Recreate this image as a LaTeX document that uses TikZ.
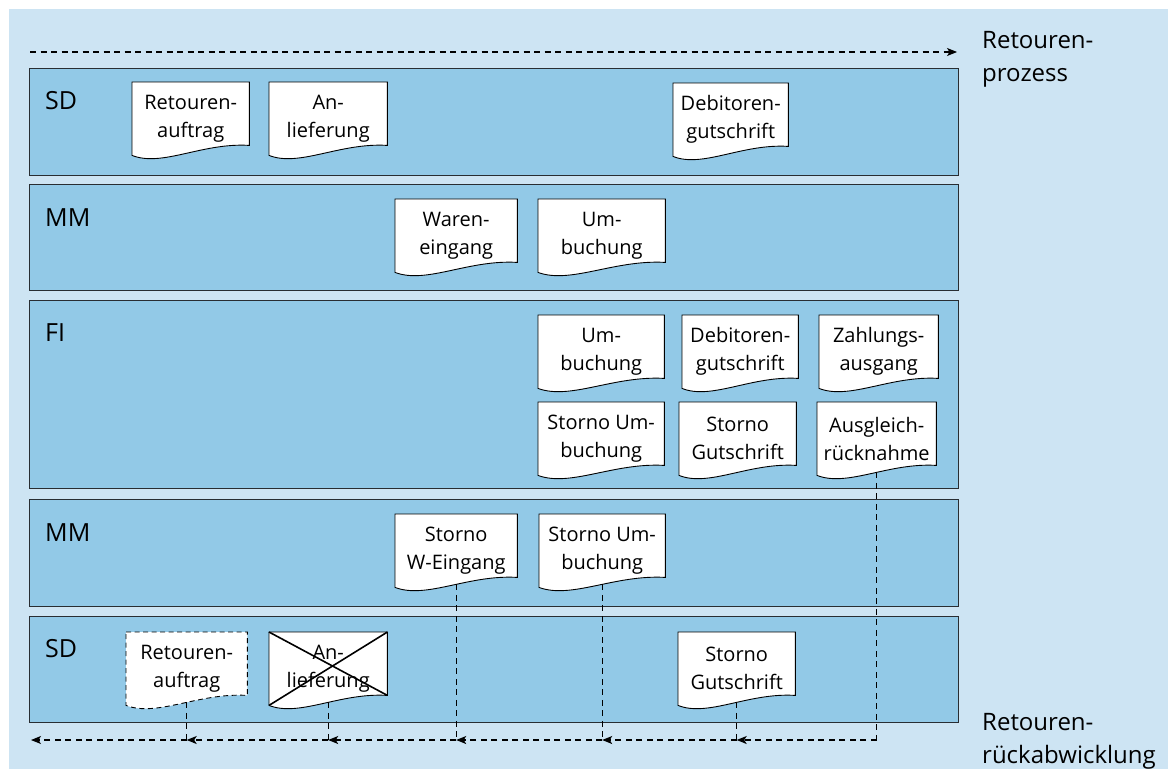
\documentclass[tikz,border=0pt]{standalone}
\usepackage{fontspec}
\setmainfont{Open Sans}
\usetikzlibrary{arrows.meta,calc}
\definecolor{bgblue}{RGB}{205,228,243}
\definecolor{laneblue}{RGB}{146,201,231}
\definecolor{edgecol}{RGB}{40,45,50}
\pgfdeclarelayer{lanes}
\pgfdeclarelayer{docs}
\pgfsetlayers{lanes,docs,main}
\tikzset{
  lanebox/.style={draw=edgecol, line width=1pt, fill=laneblue, inner sep=0pt, anchor=north west},
  lanelabel/.style={font=\fontsize{25}{30}\selectfont, inner sep=0pt, anchor=base west},
  sidelabel/.style={font=\fontsize{24}{33}\selectfont, inner sep=0pt, anchor=base west, align=left},
  doctext/.style={font=\fontsize{20}{28}\selectfont, inner sep=0pt, align=center, minimum height=73pt, anchor=north west},
  docline/.style={draw=black, line width=0.9pt, fill=white},
  dashdoc/.style={dash pattern=on 5pt off 3.5pt},
  crossline/.style={draw=black, line width=1.6pt},
  flowline/.style={draw=black, line width=1.1pt, dash pattern=on 6pt off 4.5pt},
  flowarrow/.style={flowline, -{Stealth[length=10pt,width=8pt,inset=2.5pt]}},
}
% #1 extra shape style, #2 name, #3 left, #4 top, #5 width, #6 text
\newcommand\docitem[6][]{%
  \node[doctext, minimum width=#5pt] (#2) at (#3,#4) {#6};
  \begin{pgfonlayer}{docs}
    \draw[docline,#1] (#2.north west) -- (#2.north east) -- ([yshift=10pt]#2.south east)
      .. controls ($(#2.south west)!0.598!(#2.south east)+(0,13pt)$)
      and ($(#2.south west)!0.256!(#2.south east)+(0,-12pt)$) .. (#2.south west) -- cycle;
  \end{pgfonlayer}}
\begin{document}
\begin{tikzpicture}[x=1pt,y=-1pt]
\useasboundingbox (0,0) rectangle (1168,769);
\begin{pgfonlayer}{lanes}
  \fill[bgblue] (9,9) rectangle (1168,769);
  \node[lanebox, minimum width=929pt, minimum height=107pt] (lane1) at (29,68) {};
  \node[lanebox, minimum width=929pt, minimum height=106pt] (lane2) at (29,184) {};
  \node[lanebox, minimum width=929pt, minimum height=188pt] (lane3) at (29,300) {};
  \node[lanebox, minimum width=929pt, minimum height=107pt] (lane4) at (29,499) {};
  \node[lanebox, minimum width=929pt, minimum height=106pt] (lane5) at (29,616) {};
\end{pgfonlayer}

\node[lanelabel] (lab1) at (45,109) {SD};
\node[lanelabel] (lab2) at (45,226) {MM};
\node[lanelabel] (lab3) at (45,341) {FI};
\node[lanelabel] (lab4) at (45,541) {MM};
\node[lanelabel] (lab5) at (45,657) {SD};

\node[sidelabel] (proc) at (982,81) {Retouren-\\prozess};
\node[sidelabel] (undo) at (982,763) {Retouren-\\rückabwicklung};

% lane 1
\docitem{ret1}{132}{82}{117}{Retouren-\\auftrag}
\docitem{anl1}{269}{82}{118}{An-\\lieferung}
\docitem{deb1}{673}{83}{115}{Debitoren-\\gutschrift}
% lane 2
\docitem{wein}{395}{199}{122}{Waren-\\eingang}
\docitem{umb2}{538}{199}{127}{Um-\\buchung}
% lane 3
\docitem{umb3}{538}{315}{126}{Um-\\buchung}
\docitem{deb3}{682}{315}{116}{Debitoren-\\gutschrift}
\docitem{zahl}{819}{315}{119}{Zahlungs-\\ausgang}
\docitem{sumb3}{538}{402}{126}{Storno Um-\\buchung}
\docitem{sgut3}{679}{402}{117}{Storno\\Gutschrift}
\docitem{ausg}{817}{402}{119}{Ausgleich-\\rücknahme}
% lane 4
\docitem{sweg}{395}{514}{122}{Storno\\W-Eingang}
\docitem{sumb4}{539}{514}{126}{Storno Um-\\buchung}
% lane 5
\docitem[dashdoc]{ret5}{126}{632}{121}{Retouren-\\auftrag}
\docitem{anl5}{269}{632}{118}{An-\\lieferung}
\docitem{sgut5}{678}{632}{117}{Storno\\Gutschrift}
\draw[crossline] (anl5.north west) -- ([yshift=10pt]anl5.south east);
\draw[crossline] (anl5.north east) -- (anl5.south west);

% top process arrow
\coordinate (ps) at (30,52);
\coordinate (pe) at (957,52);
\draw[flowarrow] (ps) -- (pe);

% bottom reversal line
\coordinate (low) at (0,740);
\coordinate (lend) at (31,740);
\coordinate (j6) at (ausg.south |- low);
\coordinate (j5) at (sgut5.south |- low);
\coordinate (j4) at (sumb4.south |- low);
\coordinate (j3) at (sweg.south |- low);
\coordinate (j2) at (anl5.south |- low);
\coordinate (j1) at (ret5.south |- low);
\draw[flowline] ([yshift=3pt]ausg.south) -- (j6);
\draw[flowline] ([yshift=3pt]sgut5.south) -- (j5);
\draw[flowline] ([yshift=3pt]sumb4.south) -- (j4);
\draw[flowline] ([yshift=3pt]sweg.south) -- (j3);
\draw[flowline] ([yshift=3pt]anl5.south) -- (j2);
\draw[flowline] ([yshift=3pt]ret5.south) -- (j1);
\draw[flowarrow] (j6) -- (j5);
\draw[flowarrow] (j5) -- (j4);
\draw[flowarrow] (j4) -- (j3);
\draw[flowarrow] (j3) -- (j2);
\draw[flowarrow] (j2) -- (j1);
\draw[flowarrow] (j1) -- (lend);
\end{tikzpicture}
\end{document}
